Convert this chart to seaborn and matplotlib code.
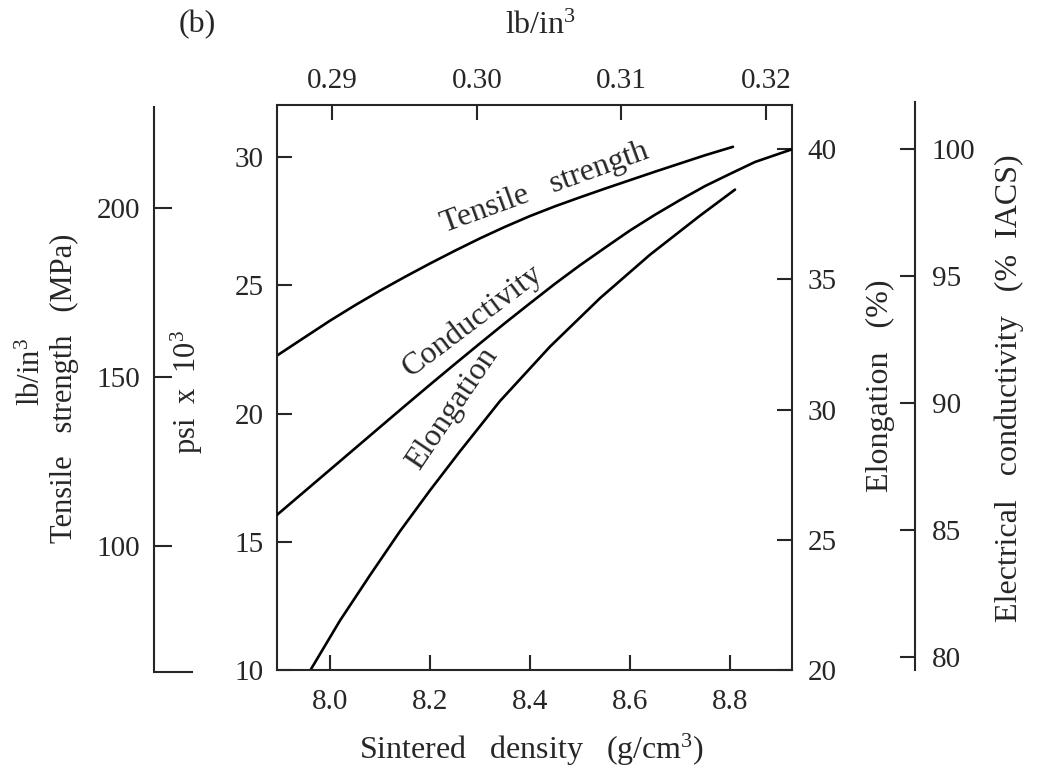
import matplotlib
matplotlib.use("Agg")
import matplotlib.pyplot as plt
import seaborn as sns

# Sintered density (g/cm3) vs. tensile strength (psi x 10^3)
density_ts = [7.894, 7.95, 8.00, 8.05, 8.10, 8.15, 8.20, 8.25, 8.30, 8.35,
              8.40, 8.45, 8.50, 8.55, 8.60, 8.65, 8.70, 8.75, 8.806]
tensile_ksi = [22.26, 22.98, 23.62, 24.22, 24.79, 25.33, 25.85, 26.35, 26.83, 27.28,
               27.70, 28.08, 28.43, 28.77, 29.10, 29.43, 29.75, 30.07, 30.40]

# Sintered density vs. electrical conductivity (% IACS)
density_cond = [7.894, 7.95, 8.00, 8.05, 8.10, 8.15, 8.20, 8.25, 8.30, 8.35, 8.40,
                8.45, 8.50, 8.55, 8.60, 8.65, 8.70, 8.75, 8.80, 8.85, 8.924]
conductivity = [85.59, 86.53, 87.37, 88.21, 89.05, 89.89, 90.72, 91.54, 92.35, 93.15, 93.93,
                94.70, 95.43, 96.12, 96.80, 97.42, 98.00, 98.55, 99.03, 99.50, 100.0]

# Sintered density vs. elongation (%)
density_el = [7.961, 8.02, 8.08, 8.14, 8.20, 8.26, 8.34, 8.44, 8.54, 8.64, 8.74, 8.81]
elongation = [20.00, 21.90, 23.64, 25.33, 26.90, 28.40, 30.33, 32.42, 34.28, 35.95, 37.45, 38.45]

density_ticks = [8.0, 8.2, 8.4, 8.6, 8.8]
lbin3_ticks = [0.29, 0.30, 0.31, 0.32]
ksi_ticks = [10, 15, 20, 25, 30]
mpa_ticks = [100, 150, 200]
elong_ticks = [20, 25, 30, 35, 40]
iacs_ticks = [80, 85, 90, 95, 100]

sns.set_theme(style="white")
plt.rcParams["font.family"] = ["Liberation Serif", "DejaVu Serif"]
plt.rcParams["mathtext.fontset"] = "custom"
plt.rcParams["mathtext.rm"] = "Liberation Serif"
plt.rcParams["mathtext.it"] = "Liberation Serif:italic"
ink = "#262626"
plt.rcParams["text.color"] = ink
plt.rcParams["axes.edgecolor"] = ink
plt.rcParams["xtick.color"] = ink
plt.rcParams["ytick.color"] = ink

W, H = 1039, 770
fig = plt.figure(figsize=(W / 100, H / 100), dpi=100)
fig.patch.set_facecolor("white")


def fx(px):
    return px / W


def fy(py):
    return 1 - py / H


TICK_FS = 21
TITLE_FS = 23
CURVE_FS = 23
LW_SPINE = 1.5

# main box
left, right, top, bottom = 277.3, 792.0, 105.0, 670.0
ax = fig.add_axes([fx(left), fy(bottom), fx(right - left), (bottom - top) / H])
ax.set_xlim(7.8946, 8.924)
ax.set_ylim(10, 32.03)
for s in ax.spines.values():
    s.set_linewidth(LW_SPINE)
ax.set_xticks(density_ticks)
ax.set_xticklabels([f"{v:.1f}" for v in density_ticks])
ax.set_yticks(ksi_ticks)
ax.tick_params(axis="both", direction="in", length=11, width=1.5,
               labelsize=TICK_FS, left=True, bottom=True)
ax.tick_params(axis="y", pad=10)
ax.tick_params(axis="x", pad=14)

# elongation (right side of the box)
ax_el = ax.twinx()
ax_el.set_ylim(20, 41.70)
ax_el.set_yticks(elong_ticks)
ax_el.tick_params(axis="y", direction="in", length=11, width=1.5,
                  labelsize=TICK_FS, pad=11)

# lb/in3 (top of the box)
ax_top = ax.twiny()
ax_top.set_xlim(0.2862, 0.3218)
ax_top.set_xticks(lbin3_ticks)
ax_top.set_xticklabels([f"{v:.2f}" for v in lbin3_ticks])
ax_top.tick_params(axis="x", direction="in", length=11, width=1.5,
                   labelsize=TICK_FS, pad=8)

# conductivity scale used inside the box (hidden)
ax_cond = ax.twinx()
ax_cond.set_ylim(79.476, 101.746)
ax_cond.set_yticks([])
for s in ax_cond.spines.values():
    s.set_visible(False)

sns.lineplot(x=density_ts, y=tensile_ksi, ax=ax, color="black", linewidth=1.9)
sns.lineplot(x=density_el, y=elongation, ax=ax_el, color="black", linewidth=1.9)
sns.lineplot(x=density_cond, y=conductivity, ax=ax_cond, color="black", linewidth=1.9)
for a in (ax, ax_el, ax_cond, ax_top):
    a.set_xlabel("")
    a.set_ylabel("")

# curve labels
ax.text(8.43, 28.8, "Tensile   strength", fontsize=CURVE_FS, rotation=20,
        ha="center", va="center", rotation_mode="anchor")
ax.text(8.285, 23.6, "Conductivity", fontsize=CURVE_FS, rotation=37,
        ha="center", va="center", rotation_mode="anchor")
ax.text(8.245, 20.2, "Elongation", fontsize=CURVE_FS, rotation=56,
        ha="center", va="center", rotation_mode="anchor")

# far-left MPa scale
ax_mpa = fig.add_axes([fx(154), fy(671.7), 0.01, (671.7 - 106.7) / H])
ax_mpa.patch.set_visible(False)
for k in ("right", "top", "bottom"):
    ax_mpa.spines[k].set_visible(False)
ax_mpa.spines["left"].set_linewidth(LW_SPINE)
ax_mpa.set_xticks([])
ax_mpa.set_ylim(62.8, 229.97)
ax_mpa.set_yticks(mpa_ticks)
ax_mpa.set_yticks([62.8], minor=True)
ax_mpa.tick_params(axis="y", which="major", direction="in", length=13, width=1.5,
                   labelsize=TICK_FS, pad=10, left=True)
ax_mpa.tick_params(axis="y", which="minor", direction="in", length=28, width=1.5,
                   left=True)

# far-right IACS scale
ax_iacs = fig.add_axes([fx(915) - 0.01, fy(bottom), 0.01, (bottom - 101.7) / H])
ax_iacs.patch.set_visible(False)
for k in ("left", "top", "bottom"):
    ax_iacs.spines[k].set_visible(False)
ax_iacs.spines["right"].set_linewidth(LW_SPINE)
ax_iacs.set_xticks([])
ax_iacs.yaxis.tick_right()
ax_iacs.set_ylim(79.476, 101.88)
ax_iacs.set_yticks(iacs_ticks)
ax_iacs.tick_params(axis="y", direction="in", length=11, width=1.5,
                    labelsize=TICK_FS, pad=12)

# axis titles
fig.text(fx(197), fy(25), "(b)", fontsize=TITLE_FS, ha="center", va="center")
fig.text(fx(541), fy(26), "lb/in$^3$", fontsize=TITLE_FS, ha="center", va="center")
fig.text(fx(532), fy(750), "Sintered   density   (g/cm$^3$)", fontsize=TITLE_FS,
         ha="center", va="center")
fig.text(fx(187), fy(392), "psi  x  10$^3$", fontsize=22, rotation=90,
         ha="center", va="center")
fig.text(fx(64), fy(388), "Tensile   strength   (MPa)", fontsize=22, rotation=90,
         ha="center", va="center")
fig.text(fx(32), fy(372), "lb/in$^3$", fontsize=22, rotation=90,
         ha="center", va="center")
fig.text(fx(880), fy(386), "Elongation   (%)", fontsize=TITLE_FS, rotation=90,
         ha="center", va="center")
fig.text(fx(1009), fy(388), "Electrical   conductivity   (%  IACS)", fontsize=TITLE_FS,
         rotation=90, ha="center", va="center")

fig.savefig("out.png", dpi=100, facecolor="white")
